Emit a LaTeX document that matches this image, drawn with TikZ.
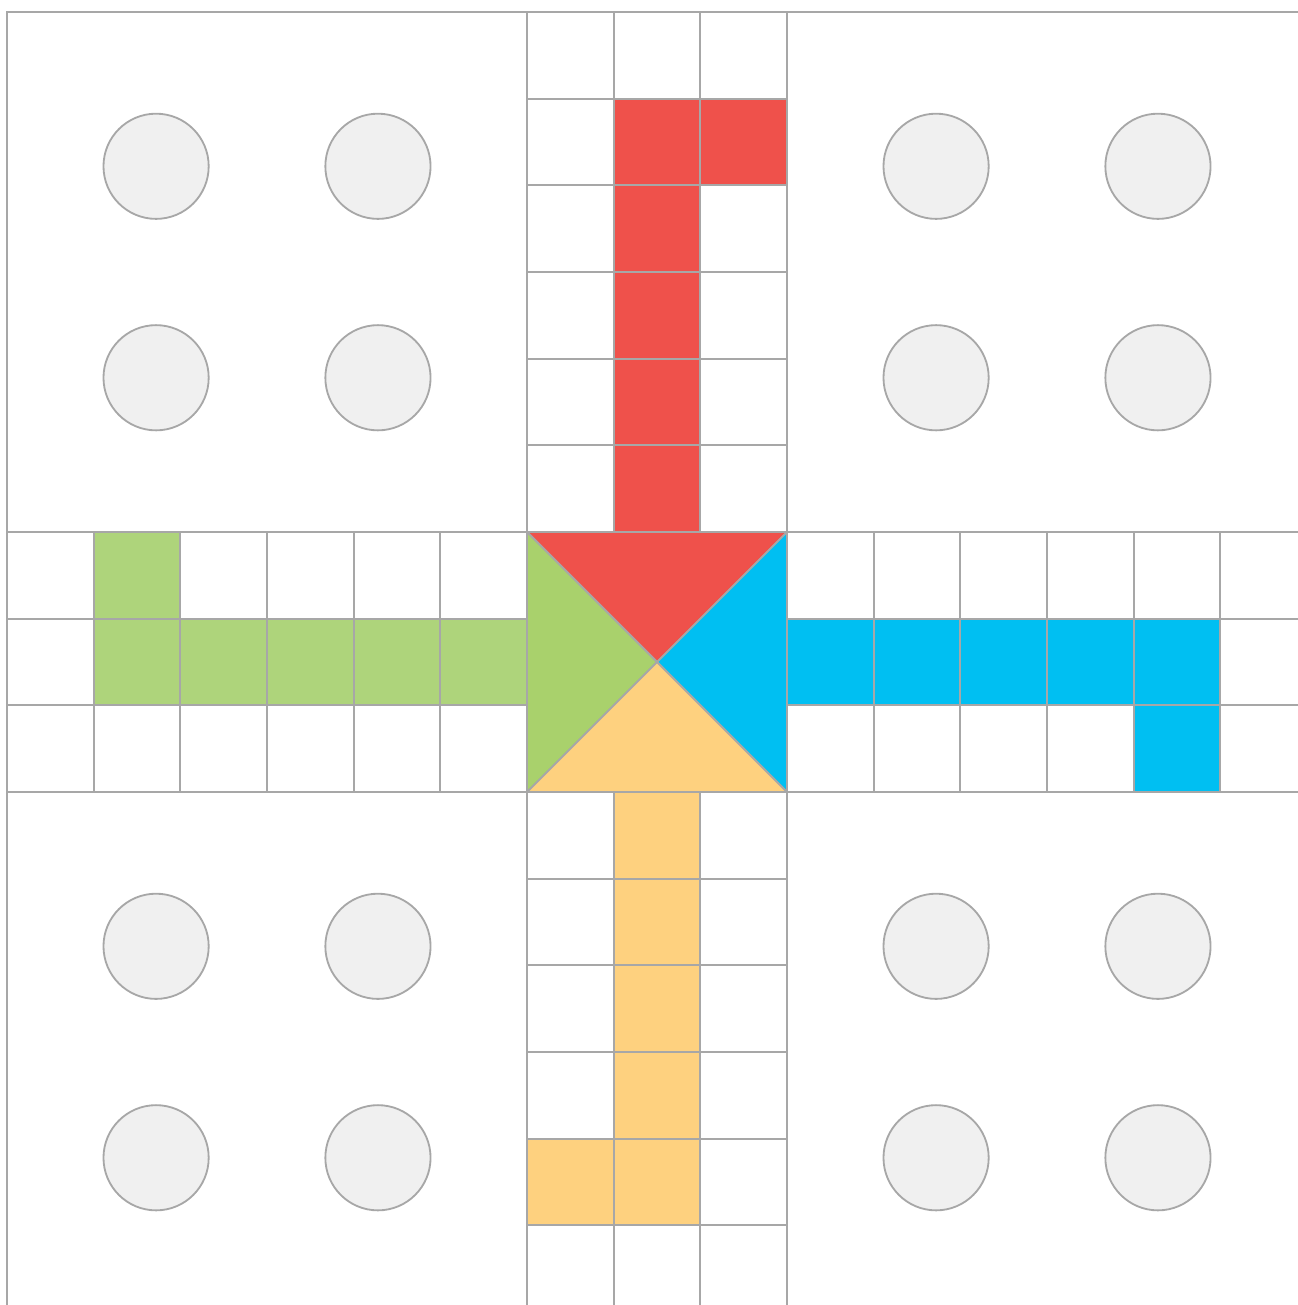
\documentclass[tikz,border=0pt]{standalone}
\definecolor{ludored}{HTML}{EF514B}
\definecolor{ludogreen}{HTML}{AED47B}
\definecolor{ludogreentri}{HTML}{A9D16C}
\definecolor{ludoblue}{HTML}{00BFF2}
\definecolor{ludoyellow}{HTML}{FED17F}
\definecolor{gridgray}{HTML}{A7A7A7}
\definecolor{holefill}{HTML}{F0F0F0}

\begin{document}
\begin{tikzpicture}[
  x=1cm, y=-1cm,
  edge/.style={draw=gridgray, line width=0.6pt},
  cell/.style={edge, fill=white},
  red cell/.style={edge, fill=ludored},
  green cell/.style={edge, fill=ludogreen},
  blue cell/.style={edge, fill=ludoblue},
  yellow cell/.style={edge, fill=ludoyellow},
  hole/.style={circle, edge, fill=holefill, inner sep=0pt, minimum size=12.14mm}
]
\useasboundingbox (-0.081,-0.1385) rectangle (14.896,14.919);
\clip (-0.081,-0.1385) rectangle (14.896,14.919);

% home yards
\foreach \qx/\qy/\q in {0/0/a, 9/0/b, 0/9/c, 9/9/d} {
  \draw[edge] (\qx,\qy) rectangle ++(6,6);
  \foreach \hx/\hy/\i in {1.72/1.78/1, 4.28/1.78/2, 1.72/4.22/3, 4.28/4.22/4}
    \node[hole] (hole-\q\i) at (\qx+\hx,\qy+\hy) {};
}

% track of the arms
\foreach \c in {6,7,8} {
  \foreach \r in {0,...,5,9,10,...,14} {
    \draw[cell] (\c,\r) rectangle ++(1,1);
    \draw[cell] (\r,\c) rectangle ++(1,1);
  }
}

% home columns
\foreach \r in {1,...,5} \draw[red cell] (7,\r) rectangle ++(1,1);
\draw[red cell] (8,1) rectangle ++(1,1);
\foreach \c in {1,...,5} \draw[green cell] (\c,7) rectangle ++(1,1);
\draw[green cell] (1,6) rectangle ++(1,1);
\foreach \c in {9,...,13} \draw[blue cell] (\c,7) rectangle ++(1,1);
\draw[blue cell] (13,8) rectangle ++(1,1);
\foreach \r in {9,...,13} \draw[yellow cell] (7,\r) rectangle ++(1,1);
\draw[yellow cell] (6,13) rectangle ++(1,1);

% centre
\coordinate (mid) at (7.5,7.5);
\draw[edge, fill=ludored] (6,6) -- (9,6) -- (mid) -- cycle;
\draw[edge, fill=ludogreentri] (6,6) -- (6,9) -- (mid) -- cycle;
\draw[edge, fill=ludoblue] (9,6) -- (9,9) -- (mid) -- cycle;
\draw[edge, fill=ludoyellow] (6,9) -- (9,9) -- (mid) -- cycle;
\end{tikzpicture}
\end{document}
